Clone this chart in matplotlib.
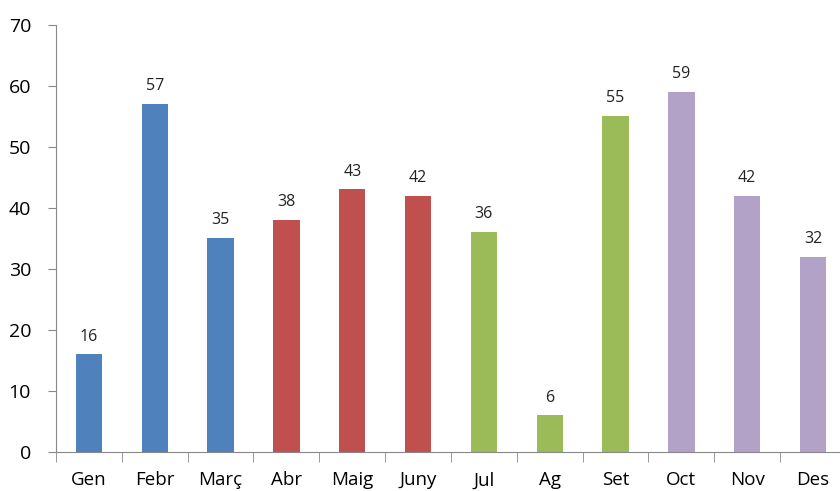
import matplotlib
matplotlib.use("Agg")
import matplotlib.pyplot as plt
import numpy as np

months = ["Gen", "Febr", "Març", "Abr", "Maig", "Juny", "Jul", "Ag", "Set", "Oct", "Nov", "Des"]
values = [16, 57, 35, 38, 43, 42, 36, 6, 55, 59, 42, 32]
season_colors = ["#4F81BD"] * 3 + ["#C0504D"] * 3 + ["#9BBB59"] * 3 + ["#B3A2C7"] * 3

plt.rcParams['font.family'] = ['Open Sans', 'DejaVu Sans']

fig = plt.figure(figsize=(8.4, 4.91), dpi=100)
ax = fig.add_axes([56/840, 1 - 452/491, (846 - 56)/840, (452 - 24.5)/491])

x = np.arange(len(months))
bars = ax.bar(x, values, width=0.4, color=season_colors)
for xi, v in zip(x, values):
    ax.text(xi, v + 1.6, str(v), ha="center", va="bottom", fontsize=11.5, color="#222222")

ax.set_xlim(-0.5, len(months) - 0.5)
ax.set_ylim(0, 70)
ax.set_yticks(range(0, 71, 10))
ax.tick_params(axis="y", labelsize=14, length=6, color="#888888", pad=12)
ax.set_xticks(x)
ax.set_xticklabels(months)
ax.tick_params(axis="x", which="major", length=0, labelsize=13.5, pad=14)
ax.set_xticks(np.arange(-0.5, len(months), 1), minor=True)
ax.tick_params(axis="x", which="minor", length=7, color="#888888", direction="out")

for s in ["top", "right"]:
    ax.spines[s].set_visible(False)
for s in ["left", "bottom"]:
    ax.spines[s].set_color("#888888")

fig.savefig("out.png", dpi=100)
